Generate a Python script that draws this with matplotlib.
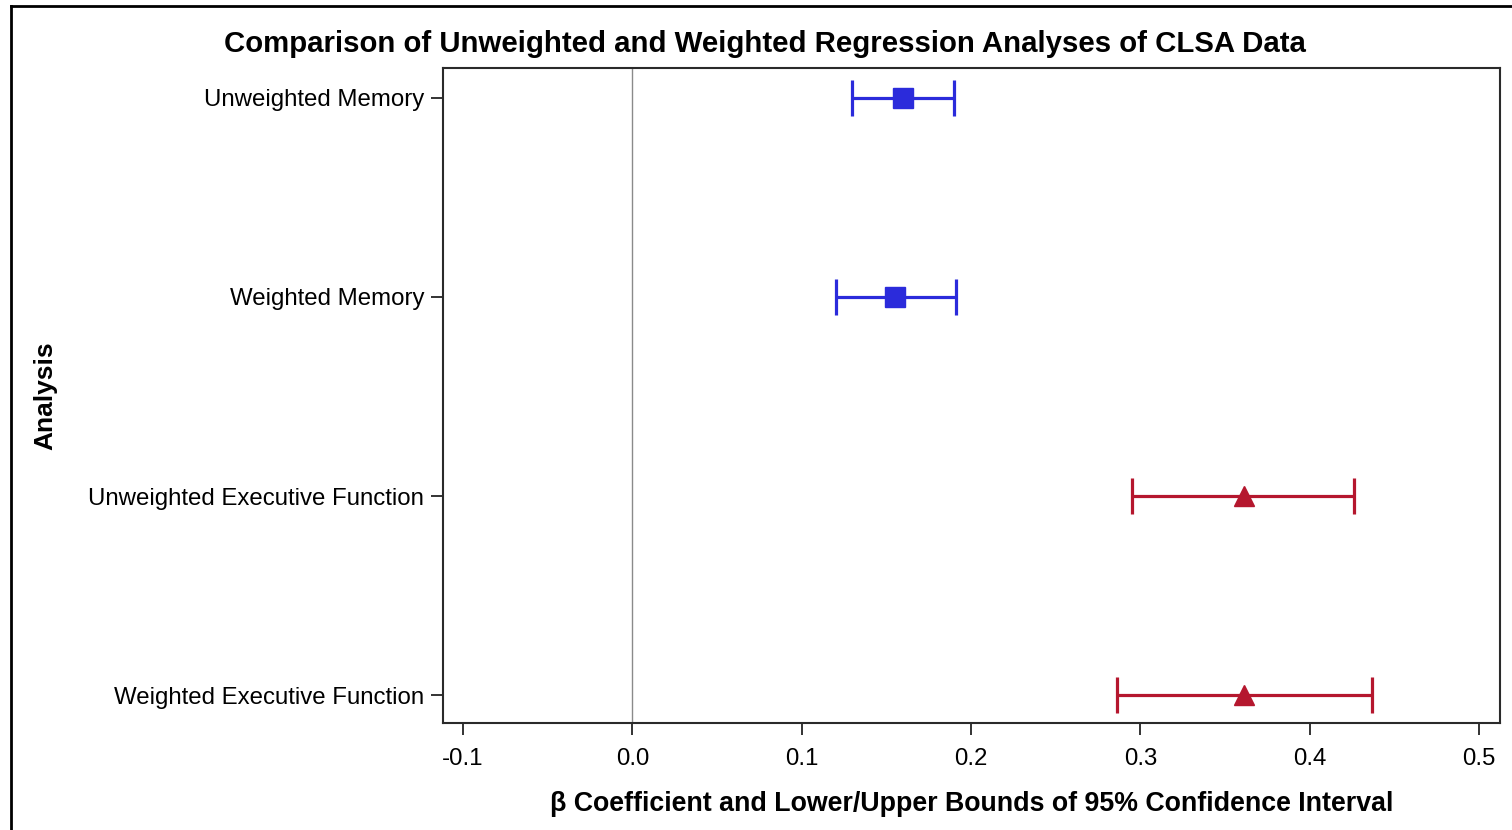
import matplotlib
matplotlib.use("Agg")
import matplotlib.pyplot as plt
from matplotlib.lines import Line2D

plt.rcParams['font.family'] = ['Liberation Sans', 'DejaVu Sans']

categories = ["Unweighted Memory", "Weighted Memory",
              "Unweighted Executive Function", "Weighted Executive Function"]
estimates = [0.160, 0.155, 0.361, 0.361]
lower = [0.130, 0.120, 0.295, 0.286]
upper = [0.190, 0.191, 0.426, 0.437]
groups = ["Memory", "Memory", "Executive Function", "Executive Function"]
xticks = [-0.1, 0.0, 0.1, 0.2, 0.3, 0.4, 0.5]

styles = {"Memory": dict(color="#2B2BDB", marker="s"),
          "Executive Function": dict(color="#B5172E", marker="^")}

fig = plt.figure(figsize=(15.12, 8.30), dpi=100)
ax = fig.add_axes([443/1512, 1 - 723/830, 1057/1512, 655/830])

ax.axvline(0.0, color="#8a8a8a", lw=1.0, zorder=1)

for i, (cat, est, lo, hi, g) in enumerate(zip(categories, estimates, lower, upper, groups)):
    st = styles[g]
    ax.errorbar([est], [i], xerr=[[est - lo], [hi - est]], fmt=st["marker"],
                color=st["color"], ecolor=st["color"], elinewidth=2.3,
                capsize=13, capthick=2.3, markersize=15, zorder=3)

ax.set_yticks(range(len(categories)))
ax.set_yticklabels(categories)
ax.set_ylim(3.14, -0.15)
ax.set_xlim(-0.1118, 0.5124)
ax.set_xticks(xticks)
ax.set_xticklabels([f"{t:.1f}" for t in xticks])

ax.tick_params(axis="both", labelsize=17.3, length=8.5, width=1.4, color="#333333")
ax.tick_params(axis="y", pad=5)
ax.tick_params(axis="x", pad=9.5)
for sp in ax.spines.values():
    sp.set_linewidth(1.5)
    sp.set_color("#2a2a2a")

fig.text(765/1512, 1 - 44/830,
         "Comparison of Unweighted and Weighted Regression Analyses of CLSA Data",
         fontsize=21.2, fontweight="bold", ha="center", va="center")
fig.text(971.5/1512, 1 - 804/830,
         "β Coefficient and Lower/Upper Bounds of 95% Confidence Interval",
         fontsize=19.3, fontweight="bold", ha="center", va="center")
fig.text(45/1512, 1 - 396/830, "Analysis", rotation=90, fontsize=19,
         fontweight="bold", ha="center", va="center")

# outer frame (left and top edges)
fig.add_artist(Line2D([11/1512, 11/1512], [0, 1 - 6/830], transform=fig.transFigure,
                      color="black", lw=2))
fig.add_artist(Line2D([11/1512, 1], [1 - 6/830, 1 - 6/830], transform=fig.transFigure,
                      color="black", lw=2))

fig.savefig("out.png", dpi=100)
